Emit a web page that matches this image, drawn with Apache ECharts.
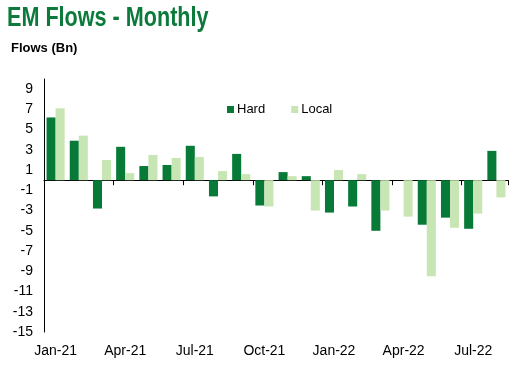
<!DOCTYPE html>
<html><head><meta charset="utf-8">
<script src="https://cdn.jsdelivr.net/npm/echarts@6/dist/echarts.min.js"></script>
<style>html,body{margin:0;padding:0;background:#fff}#c{width:517px;height:369px}</style>
</head><body><div id="c"></div>
<script>
var categories = ['Jan-21','Feb-21','Mar-21','Apr-21','May-21','Jun-21','Jul-21','Aug-21','Sep-21','Oct-21','Nov-21','Dec-21','Jan-22','Feb-22','Mar-22','Apr-22','May-22','Jun-22','Jul-22','Aug-22'];
var hardValues = [6.2, 3.9, -2.8, 3.3, 1.4, 1.5, 3.4, -1.6, 2.6, -2.5, 0.8, 0.4, -3.2, -2.6, -5.0, 0, -4.4, -3.7, -4.8, 2.9];
var localValues = [7.1, 4.4, 2.0, 0.7, 2.5, 2.2, 2.3, 0.9, 0.6, -2.6, 0.4, -3.0, 1.0, 0.6, -3.0, -3.6, -9.5, -4.7, -3.3, -1.7];
var seriesNames = ['Hard', 'Local'];

var font = '"Liberation Sans", Arial, sans-serif';
var chart = echarts.init(document.getElementById('c'));
chart.setOption({
  animation: false,
  title: [
    {text: 'Flows (Bn)', left: 6, top: 37,
     textStyle: {fontFamily: font, fontWeight: 'bold', fontSize: 13, color: '#000'}}
  ],
  graphic: [
    {type: 'text', left: 7, top: 5, scaleX: 0.8, scaleY: 1,
     style: {text: 'EM Flows - Monthly', font: 'bold 27px "Liberation Sans", Arial, sans-serif', fill: '#0b7a3a'}}
  ],
  legend: {
    data: seriesNames, left: 222, top: 98, itemWidth: 7, itemHeight: 7, itemGap: 26,
    icon: 'rect',
    textStyle: {fontFamily: font, fontSize: 13, color: '#000', padding: [0,0,0,-2]}
  },
  grid: {left: 44, right: 9, top: 79, bottom: 37},
  xAxis: [
    {type: 'category', data: categories, position: 'bottom',
     axisLine: {show: false, onZero: false}, axisTick: {show: false},
     axisLabel: {interval: 2, margin: 12, fontFamily: font, fontSize: 14, color: '#000'}},
    {type: 'category', data: categories, position: 'bottom',
     axisLine: {show: true, onZero: true, lineStyle: {color: '#000', width: 1}},
     axisTick: {show: true, interval: 2, length: 5, inside: false, lineStyle: {color: '#000'}},
     axisLabel: {show: false}}
  ],
  yAxis: {
    type: 'value', min: -15, max: 10, interval: 1,
    splitLine: {show: false},
    axisLine: {show: true, lineStyle: {color: '#000', width: 1}},
    axisTick: {show: false},
    axisLabel: {margin: 11, fontFamily: font, fontSize: 14, color: '#000',
      formatter: function (v) { return (Math.abs(v) % 2 === 1) ? String(v) : ''; }}
  },
  series: [
    {name: seriesNames[0], type: 'bar', data: hardValues, xAxisIndex: 0,
     itemStyle: {color: '#087a37'}, barGap: '0%', barCategoryGap: '22%'},
    {name: seriesNames[1], type: 'bar', data: localValues, xAxisIndex: 0,
     itemStyle: {color: '#c8e6b3'}, barGap: '0%', barCategoryGap: '22%'}
  ]
});
</script></body></html>
